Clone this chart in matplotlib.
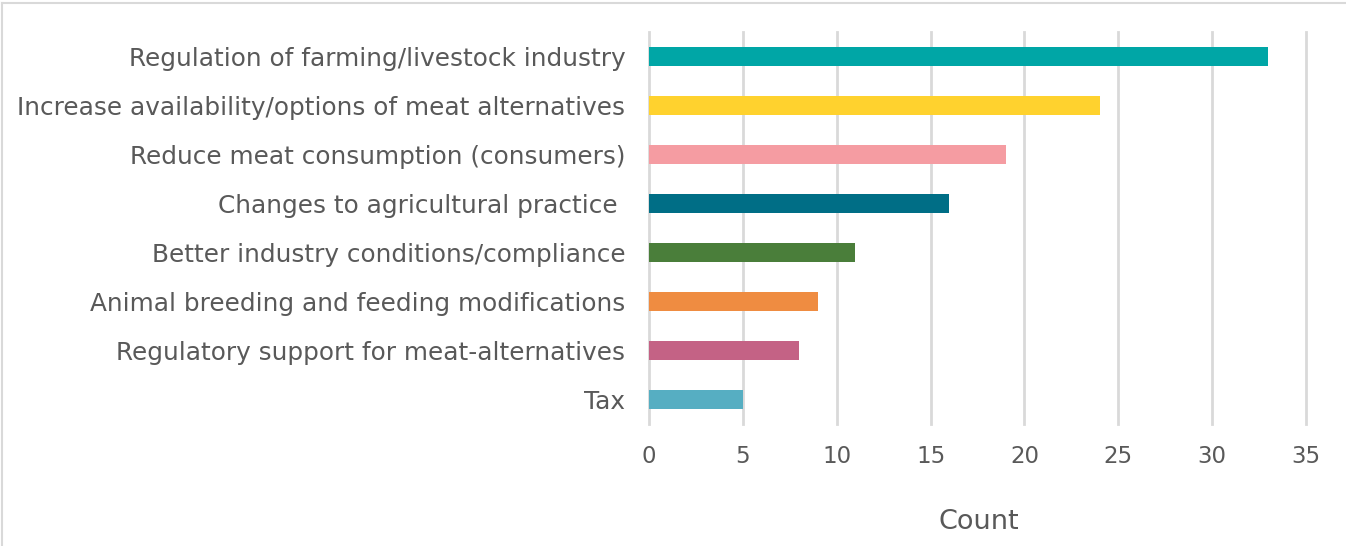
import matplotlib.pyplot as plt
from matplotlib.lines import Line2D

plt.rcParams['font.family'] = ['DejaVu Sans']

categories = [
    "Regulation of farming/livestock industry",
    "Increase availability/options of meat alternatives",
    "Reduce meat consumption (consumers)",
    "Changes to agricultural practice ",
    "Better industry conditions/compliance",
    "Animal breeding and feeding modifications",
    "Regulatory support for meat-alternatives",
    "Tax",
]
counts = [33, 24, 19, 16, 11, 9, 8, 5]
colors = ["#00A6A6", "#FFD22E", "#F59CA2", "#006E86",
          "#4A7E3A", "#EF8C41", "#C46285", "#56AEC2"]
xticks = [0, 5, 10, 15, 20, 25, 30, 35]

text_col = "#595959"
grid_col = "#D9D9D9"

fig = plt.figure(figsize=(13.46, 5.46), dpi=100)
ax = fig.add_axes([649 / 1346, 1 - 424 / 546, (1306 - 649) / 1346, (424 - 32) / 546])

ypos = list(range(len(categories)))
ax.barh(ypos, counts, height=0.37, color=colors, zorder=3)
ax.set_ylim(len(categories) - 0.5, -0.5)
ax.set_xlim(0, 35)

ax.set_yticks(ypos)
ax.set_yticklabels(categories, fontsize=17.8, color=text_col)
ax.set_xticks(xticks)
ax.set_xticklabels([str(t) for t in xticks], fontsize=16.5, color=text_col)
ax.tick_params(axis='y', length=0, pad=17)
ax.tick_params(axis='x', length=0, pad=15)

ax.grid(axis='x', color=grid_col, linewidth=2, zorder=0)
for g in ax.get_xgridlines():
    g.set_clip_on(False)
for s in ax.spines.values():
    s.set_visible(False)

fig.text(979 / 1346, 1 - 522 / 546, "Count", fontsize=19.5, color=text_col,
         ha='center', va='center')

# light frame on left and top edges
fig.add_artist(Line2D([1.5 / 1346, 1.5 / 1346], [0, 1 - 2.5 / 546],
                      transform=fig.transFigure, color=grid_col, linewidth=1.5))
fig.add_artist(Line2D([1.5 / 1346, 1], [1 - 2.5 / 546, 1 - 2.5 / 546],
                      transform=fig.transFigure, color=grid_col, linewidth=1.5))

fig.savefig("out.png", dpi=100)
